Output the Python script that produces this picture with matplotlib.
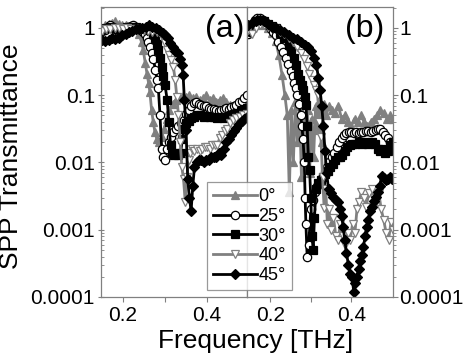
import matplotlib
matplotlib.use("Agg")
import matplotlib.pyplot as plt
from matplotlib.ticker import FixedLocator, FixedFormatter, LogLocator, NullFormatter

plt.rcParams['font.family'] = ['Liberation Sans', 'DejaVu Sans']

# ---------------- data: panel (a) ----------------
a_f0 = [0.150, 0.158, 0.166, 0.174, 0.182, 0.190, 0.198, 0.206, 0.214, 0.222, 0.230, 0.238, 0.244, 0.248, 0.253,
        0.257, 0.261, 0.264, 0.268, 0.272, 0.276, 0.281, 0.286, 0.292, 0.298, 0.304, 0.310, 0.318, 0.326, 0.334,
        0.342, 0.350, 0.358, 0.366, 0.374, 0.382, 0.390, 0.398, 0.406, 0.414, 0.422, 0.430, 0.438, 0.446, 0.454,
        0.462, 0.470, 0.478, 0.486, 0.494]
a_t0 = [1.00, 1.10, 1.15, 1.20, 1.25, 1.15, 1.10, 1.10, 1.05, 1.00, 0.95, 0.80, 0.62, 0.47, 0.30,
        0.21, 0.15, 0.11, 0.06, 0.04, 0.028, 0.022, 0.020, 0.024, 0.032, 0.045, 0.060, 0.075, 0.085, 0.092,
        0.098, 0.095, 0.10, 0.09, 0.095, 0.085, 0.09, 0.10, 0.085, 0.09, 0.08, 0.085, 0.09, 0.078, 0.072,
        0.068, 0.062, 0.066, 0.06, 0.065]

a_f25 = [0.150, 0.157, 0.164, 0.170, 0.176, 0.182, 0.188, 0.194, 0.200, 0.206, 0.212, 0.218, 0.224, 0.230, 0.236,
         0.242, 0.247, 0.252, 0.256, 0.260, 0.264, 0.268, 0.272, 0.277, 0.281, 0.284, 0.288, 0.292, 0.296, 0.300,
         0.305, 0.310, 0.315, 0.320, 0.326, 0.332, 0.338, 0.344, 0.350, 0.356, 0.362, 0.368, 0.374, 0.380, 0.386,
         0.392, 0.398, 0.404, 0.410, 0.416, 0.422, 0.428, 0.434, 0.440, 0.446, 0.452, 0.458, 0.464, 0.470, 0.476,
         0.482, 0.488, 0.494]
a_t25 = [0.90, 0.93, 1.05, 1.10, 1.05, 0.98, 0.93, 0.95, 0.98, 1.00, 1.02, 1.06, 1.10, 1.05, 1.00,
         0.94, 0.88, 0.80, 0.71, 0.62, 0.52, 0.43, 0.35, 0.24, 0.17, 0.13, 0.05, 0.016, 0.012, 0.011,
         0.016, 0.020, 0.024, 0.028, 0.032, 0.035, 0.038, 0.043, 0.052, 0.060, 0.068, 0.077, 0.080, 0.075, 0.072,
         0.070, 0.068, 0.064, 0.062, 0.063, 0.061, 0.058, 0.060, 0.063, 0.065, 0.062, 0.066, 0.068, 0.072, 0.078,
         0.082, 0.090, 0.10]

a_f30 = [0.150, 0.160, 0.170, 0.180, 0.190, 0.200, 0.210, 0.220, 0.230, 0.240, 0.250, 0.258, 0.266, 0.272, 0.276,
         0.280, 0.284, 0.288, 0.292, 0.296, 0.300, 0.305, 0.309, 0.313, 0.317, 0.322, 0.327, 0.332, 0.337, 0.341,
         0.345, 0.350, 0.356, 0.362, 0.368, 0.376, 0.384, 0.392, 0.400, 0.408, 0.416, 0.424, 0.432, 0.440, 0.448,
         0.456, 0.464, 0.472, 0.480, 0.488, 0.495]
a_t30 = [0.95, 1.00, 1.05, 1.00, 0.98, 1.00, 1.02, 1.05, 1.05, 1.00, 0.98, 0.95, 0.90, 0.80, 0.70,
         0.58, 0.47, 0.36, 0.26, 0.19, 0.14, 0.086, 0.04, 0.018, 0.014, 0.013, 0.014, 0.013, 0.014, 0.022,
         0.032, 0.039, 0.042, 0.046, 0.048, 0.051, 0.050, 0.048, 0.049, 0.047, 0.048, 0.046, 0.048, 0.046, 0.048,
         0.050, 0.052, 0.055, 0.058, 0.062, 0.065]

a_f40 = [0.150, 0.160, 0.170, 0.180, 0.190, 0.200, 0.210, 0.220, 0.230, 0.240, 0.250, 0.260, 0.270, 0.280, 0.288,
         0.295, 0.300, 0.305, 0.310, 0.315, 0.320, 0.324, 0.328, 0.332, 0.336, 0.340, 0.344, 0.348, 0.352, 0.356,
         0.360, 0.364, 0.370, 0.376, 0.382, 0.388, 0.394, 0.400, 0.406, 0.412, 0.418, 0.424, 0.430, 0.436, 0.442,
         0.448, 0.455, 0.462, 0.470, 0.478, 0.486, 0.494]
a_t40 = [0.90, 0.95, 0.98, 1.00, 1.00, 0.98, 1.00, 0.98, 0.95, 0.95, 0.92, 0.90, 0.88, 0.86, 0.84,
         0.72, 0.60, 0.47, 0.40, 0.33, 0.26, 0.17, 0.095, 0.05, 0.02, 0.0085, 0.0056, 0.0026, 0.006, 0.011,
         0.014, 0.016, 0.015, 0.016, 0.015, 0.016, 0.017, 0.017, 0.016, 0.018, 0.018, 0.018, 0.023, 0.026, 0.029,
         0.032, 0.038, 0.043, 0.046, 0.048, 0.050, 0.052]

a_f45 = [0.150, 0.158, 0.166, 0.174, 0.182, 0.190, 0.198, 0.206, 0.214, 0.222, 0.230, 0.238, 0.246, 0.254, 0.262,
         0.270, 0.278, 0.286, 0.294, 0.300, 0.306, 0.312, 0.318, 0.324, 0.330, 0.336, 0.340, 0.343, 0.346, 0.350,
         0.354, 0.358, 0.362, 0.366, 0.370, 0.375, 0.380, 0.386, 0.392, 0.398, 0.404, 0.410, 0.416, 0.422, 0.428,
         0.434, 0.440, 0.446, 0.452, 0.458, 0.464, 0.470, 0.476, 0.482, 0.488, 0.495]
a_t45 = [0.66, 0.64, 0.66, 0.70, 0.68, 0.72, 0.78, 0.82, 0.86, 0.90, 0.95, 0.98, 1.00, 1.05, 1.10,
         1.05, 1.00, 0.92, 0.85, 0.78, 0.70, 0.60, 0.53, 0.46, 0.42, 0.35, 0.28, 0.20, 0.085, 0.03,
         0.0056, 0.003, 0.0019, 0.0045, 0.0085, 0.010, 0.011, 0.011, 0.010, 0.011, 0.011, 0.012, 0.012, 0.012, 0.014,
         0.013, 0.016, 0.020, 0.022, 0.026, 0.029, 0.033, 0.037, 0.041, 0.044, 0.048]

# ---------------- data: panel (b) ----------------
b_f0 = [0.145, 0.155, 0.165, 0.175, 0.185, 0.195, 0.205, 0.213, 0.221, 0.229, 0.236, 0.242, 0.247, 0.252, 0.257,
        0.262, 0.267, 0.272, 0.277, 0.282, 0.287, 0.292, 0.297, 0.302, 0.307, 0.312, 0.317, 0.322, 0.327, 0.332,
        0.338, 0.345, 0.352, 0.360, 0.368, 0.376, 0.384, 0.392, 0.400, 0.408, 0.416, 0.424, 0.432, 0.440, 0.448,
        0.456, 0.464, 0.472, 0.480, 0.488, 0.496, 0.503]
b_t0 = [0.90, 1.00, 1.10, 1.15, 1.10, 1.00, 0.85, 0.65, 0.40, 0.20, 0.10, 0.05, 0.0036, 0.06, 0.010,
        0.08, 0.020, 0.07, 0.006, 0.05, 0.015, 0.06, 0.007, 0.045, 0.012, 0.07, 0.03, 0.08, 0.02, 0.075,
        0.05, 0.07, 0.06, 0.055, 0.07, 0.045, 0.05, 0.04, 0.035, 0.045, 0.04, 0.05, 0.04, 0.035, 0.04,
        0.045, 0.05, 0.06, 0.055, 0.045, 0.05, 0.045]

b_f25 = [0.145, 0.150, 0.156, 0.162, 0.168, 0.175, 0.182, 0.189, 0.195, 0.201, 0.207, 0.213, 0.220, 0.226, 0.232,
         0.238, 0.244, 0.250, 0.255, 0.259, 0.263, 0.267, 0.271, 0.275, 0.278, 0.281, 0.284, 0.286, 0.288, 0.291,
         0.295, 0.300, 0.305, 0.310, 0.316, 0.322, 0.328, 0.334, 0.340, 0.346, 0.352, 0.358, 0.364, 0.370, 0.376,
         0.382, 0.388, 0.394, 0.400, 0.406, 0.412, 0.418, 0.424, 0.430, 0.436, 0.442, 0.448, 0.454, 0.460, 0.466,
         0.472, 0.478, 0.484, 0.490, 0.496, 0.502]
b_t25 = [0.80, 0.87, 1.10, 1.30, 1.40, 1.40, 1.30, 1.20, 1.10, 0.98, 0.88, 0.79, 0.62, 0.52, 0.44,
         0.36, 0.29, 0.23, 0.19, 0.15, 0.13, 0.10, 0.075, 0.05, 0.035, 0.022, 0.010, 0.003, 0.0012, 0.0004,
         0.0006, 0.002, 0.0028, 0.0036, 0.0045, 0.005, 0.0058, 0.0068, 0.0085, 0.010, 0.012, 0.014, 0.017, 0.020, 0.023,
         0.026, 0.027, 0.028, 0.028, 0.027, 0.028, 0.027, 0.028, 0.028, 0.029, 0.029, 0.028, 0.029, 0.030, 0.031,
         0.031, 0.028, 0.026, 0.023, 0.020, 0.018]

b_f30 = [0.145, 0.155, 0.165, 0.175, 0.185, 0.195, 0.205, 0.215, 0.225, 0.235, 0.245, 0.252, 0.258, 0.263, 0.268,
         0.273, 0.278, 0.282, 0.285, 0.288, 0.291, 0.294, 0.297, 0.300, 0.303, 0.306, 0.309, 0.313, 0.318, 0.324,
         0.330, 0.336, 0.342, 0.348, 0.354, 0.360, 0.366, 0.372, 0.378, 0.384, 0.390, 0.396, 0.402, 0.410, 0.418,
         0.426, 0.434, 0.442, 0.450, 0.458, 0.466, 0.472, 0.478, 0.484, 0.490, 0.496, 0.502]
b_t30 = [0.90, 1.10, 1.25, 1.30, 1.25, 1.15, 1.08, 1.00, 0.85, 0.70, 0.56, 0.45, 0.36, 0.28, 0.21,
         0.17, 0.14, 0.12, 0.095, 0.072, 0.035, 0.012, 0.0078, 0.003, 0.0008, 0.0005, 0.0015, 0.004, 0.005, 0.0055,
         0.006, 0.0068, 0.0075, 0.0085, 0.0095, 0.011, 0.012, 0.012, 0.013, 0.015, 0.017, 0.018, 0.019, 0.019, 0.020,
         0.019, 0.020, 0.019, 0.020, 0.019, 0.016, 0.015, 0.016, 0.014, 0.015, 0.018, 0.020]

b_f40 = [0.145, 0.155, 0.165, 0.175, 0.185, 0.195, 0.205, 0.215, 0.225, 0.235, 0.245, 0.255, 0.265, 0.275, 0.283,
         0.290, 0.296, 0.302, 0.307, 0.312, 0.317, 0.321, 0.325, 0.329, 0.333, 0.337, 0.341, 0.345, 0.350, 0.356,
         0.362, 0.367, 0.373, 0.379, 0.385, 0.391, 0.397, 0.403, 0.409, 0.414, 0.419, 0.425, 0.431, 0.437, 0.443,
         0.450, 0.456, 0.462, 0.468, 0.474, 0.480, 0.486, 0.492, 0.498, 0.503]
b_t40 = [0.93, 0.80, 1.00, 1.10, 1.10, 1.05, 1.00, 0.95, 0.88, 0.80, 0.72, 0.62, 0.52, 0.42, 0.34,
         0.27, 0.21, 0.17, 0.14, 0.12, 0.10, 0.04, 0.024, 0.006, 0.0021, 0.004, 0.0012, 0.002, 0.001, 0.0015,
         0.0008, 0.0007, 0.0012, 0.0008, 0.0006, 0.0009, 0.0007, 0.0012, 0.0009, 0.0020, 0.0026, 0.0036, 0.0030, 0.0022, 0.0035,
         0.0040, 0.0030, 0.0026, 0.0035, 0.0020, 0.0014, 0.0009, 0.0007, 0.0013, 0.0010]

b_f45 = [0.145, 0.155, 0.165, 0.175, 0.185, 0.195, 0.205, 0.215, 0.225, 0.235, 0.245, 0.255, 0.265, 0.275, 0.285,
         0.292, 0.300, 0.308, 0.314, 0.319, 0.323, 0.327, 0.331, 0.335, 0.339, 0.344, 0.350, 0.356, 0.362, 0.367,
         0.372, 0.376, 0.380, 0.384, 0.388, 0.393, 0.398, 0.402, 0.406, 0.410, 0.414, 0.418, 0.422, 0.426, 0.430,
         0.434, 0.438, 0.442, 0.446, 0.450, 0.455, 0.460, 0.465, 0.470, 0.475, 0.480, 0.485, 0.490, 0.495, 0.500, 0.504]
b_t45 = [1.10, 1.20, 1.25, 1.30, 1.25, 1.15, 1.05, 1.00, 0.93, 0.86, 0.78, 0.72, 0.68, 0.62, 0.55,
         0.52, 0.46, 0.36, 0.28, 0.18, 0.12, 0.07, 0.035, 0.015, 0.007, 0.004, 0.0035, 0.0031, 0.0028, 0.0026,
         0.0020, 0.0016, 0.0011, 0.0007, 0.00045, 0.0003, 0.00022, 0.0002, 0.00012, 0.00016, 0.0002, 0.00026, 0.00034, 0.00042, 0.00055,
         0.0008, 0.0011, 0.0014, 0.0019, 0.0022, 0.0027, 0.0031, 0.0036, 0.0045, 0.0062, 0.0058, 0.0055, 0.0057, 0.0060, 0.0056, 0.0058]

legend_labels = ['0°', '25°', '30°', '40°', '45°']
y_ticks = [1, 0.1, 0.01, 0.001, 0.0001]
y_tick_labels = ['1', '0.1', '0.01', '0.001', '0.0001']
x_ticks = [0.2, 0.4]
x_tick_labels = ['0.2', '0.4']

# ---------------- styles ----------------
GRAY = '#808080'
styles = [
    dict(color=GRAY, marker='^', mfc=GRAY, mec=GRAY, ms=6.2),
    dict(color='black', marker='o', mfc='white', mec='black', ms=6.0),
    dict(color='black', marker='s', mfc='black', mec='black', ms=5.4),
    dict(color=GRAY, marker='v', mfc='white', mec=GRAY, ms=6.2),
    dict(color='black', marker='D', mfc='black', mec='black', ms=5.0),
]

fig = plt.figure(figsize=(4.73, 3.57), dpi=100)
W, H = 473.0, 357.0
bottom = 1 - 297 / H
height = (297 - 7) / H
ax1 = fig.add_axes([101 / W, bottom, (247 - 101) / W, height])
ax2 = fig.add_axes([247 / W, bottom, (393 - 247) / W, height])

panel_a = [(a_f0, a_t0), (a_f25, a_t25), (a_f30, a_t30), (a_f40, a_t40), (a_f45, a_t45)]
panel_b = [(b_f0, b_t0), (b_f25, b_t25), (b_f30, b_t30), (b_f40, b_t40), (b_f45, b_t45)]

handles = []
for ax, panel in ((ax1, panel_a), (ax2, panel_b)):
    for (f, t), st, lab in zip(panel, styles, legend_labels):
        h, = ax.plot(f, t, color=st['color'], marker=st['marker'], mfc=st['mfc'], mec=st['mec'],
                     ms=st['ms'], mew=0.9, lw=2.0, label=lab)
        if ax is ax1:
            handles.append(h)
    ax.set_yscale('log')
    ax.set_ylim(1e-4, 2.05)
    for s in ax.spines.values():
        s.set_color(GRAY)
        s.set_linewidth(0.9)

ax1.set_xlim(0.1476, 0.495)
ax2.set_xlim(0.1425, 0.503)

for ax in (ax1, ax2):
    ax.xaxis.set_major_locator(FixedLocator(x_ticks))
    ax.xaxis.set_major_formatter(FixedFormatter(x_tick_labels))
    ax.xaxis.set_minor_locator(FixedLocator([0.3]))
    ax.tick_params(axis='x', which='both', direction='out', length=3.5, width=0.8, color=GRAY,
                   labelsize=15, pad=3, top=False)
    ax.yaxis.set_major_locator(FixedLocator(y_ticks))
    ax.yaxis.set_minor_locator(LogLocator(base=10, subs=range(2, 10)))
    ax.yaxis.set_minor_formatter(NullFormatter())

ax1.yaxis.set_major_formatter(FixedFormatter(y_tick_labels))
ax1.tick_params(axis='y', which='major', direction='inout', length=5, width=0.8, color=GRAY,
                labelsize=15, pad=2, right=False)
ax1.tick_params(axis='y', which='minor', direction='in', length=2.5, width=0.6, color=GRAY, right=False)

ax2.yaxis.tick_right()
ax2.yaxis.set_major_formatter(FixedFormatter(y_tick_labels))
ax2.tick_params(axis='y', which='major', direction='out', length=3.5, width=0.8, color=GRAY,
                labelsize=15, pad=1, left=False, right=True)
ax2.tick_params(axis='y', which='minor', direction='out', length=2.2, width=0.6, color=GRAY,
                left=False, right=True)

ax1.text(0.98, 0.975, '(a)', transform=ax1.transAxes, ha='right', va='top', fontsize=23)
ax2.text(0.94, 0.975, '(b)', transform=ax2.transAxes, ha='right', va='top', fontsize=23)

fig.text(11 / W, 1 - 156 / H, 'SPP Transmittance', rotation=90, ha='center', va='center', fontsize=19)
fig.text(256 / W, 1 - 341 / H, 'Frequency [THz]', ha='center', va='center', fontsize=19)

leg = fig.legend(handles=handles, labels=legend_labels, loc='upper left',
                 bbox_to_anchor=(207 / W, 1 - 182 / H), fontsize=13, frameon=True, fancybox=False,
                 edgecolor=GRAY, handlelength=2.4, handletextpad=0.1, labelspacing=0.15,
                 borderpad=0.35, borderaxespad=0)
leg.get_frame().set_linewidth(0.9)

fig.savefig('out.png', dpi=100)
